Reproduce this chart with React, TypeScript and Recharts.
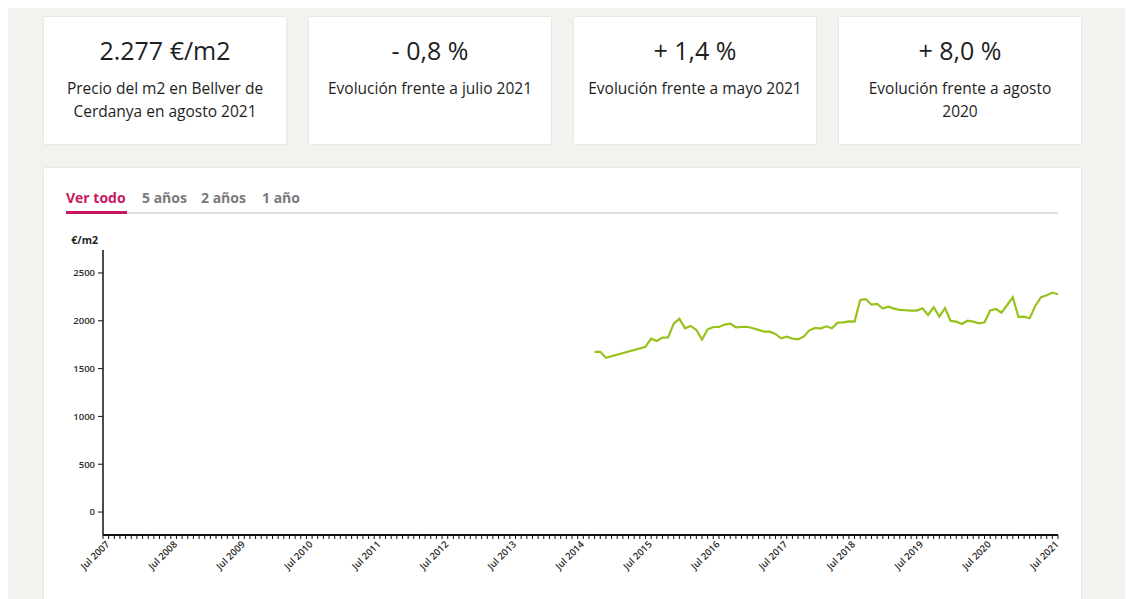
import React from 'react';
import { LineChart, Line, XAxis, YAxis } from 'recharts';

const MONTH_ABBR = ['Ene', 'Feb', 'Mar', 'Abr', 'May', 'Jun', 'Jul', 'Ago', 'Sep', 'Oct', 'Nov', 'Dic'];

// monthly axis, Jul 2007 -> Aug 2021
const FIRST_YEAR = 2007;
const FIRST_MONTH = 6;
const MONTH_COUNT = 170;

const months: string[] = [];
for (let i = 0; i < MONTH_COUNT; i++) {
  const m = (FIRST_MONTH + i) % 12;
  const y = FIRST_YEAR + Math.floor((FIRST_MONTH + i) / 12);
  months.push(`${MONTH_ABBR[m]} ${y}`);
}

// €/m2, one value per month starting Oct 2014 (null = no data)
const priceStart = 'Oct 2014';
const prices: (number | null)[] = [
  1675, 1675, 1612, null, null, null, null, null, null, 1729,
  1813, 1789, 1824, 1827, 1970, 2022, 1921, 1946, 1904, 1803,
  1911, 1935, 1935, 1960, 1970, 1932, 1935, 1937, 1922, 1905,
  1886, 1886, 1862, 1817, 1834, 1813, 1806, 1834, 1900, 1925,
  1918, 1942, 1921, 1980, 1984, 1994, 1991, 2218, 2225, 2168,
  2176, 2127, 2148, 2127, 2113, 2110, 2106, 2106, 2130, 2061,
  2141, 2043, 2134, 1998, 1991, 1967, 2001, 1991, 1973, 1984,
  2108, 2123, 2085, 2165, 2246, 2040, 2043, 2026, 2158, 2246,
  2267, 2295, 2277,
];

const yTicks = [0, 500, 1000, 1500, 2000, 2500];

const kpiValues = ['2.277 €/m2', '- 0,8 %', '+ 1,4 %', '+ 8,0 %'];
const kpiLabels = [
  ['Precio del m2 en Bellver de', 'Cerdanya en agosto 2021'],
  ['Evolución frente a julio 2021'],
  ['Evolución frente a mayo 2021'],
  ['Evolución frente a agosto', '2020'],
];

const tabs = ['Ver todo', '5 años', '2 años', '1 año'];
const tabLeft = [22, 98, 157, 218];

const startIdx = months.indexOf(priceStart);
const chartData = months.map((month, i) => ({
  month,
  price: i >= startIdx ? prices[i - startIdx] ?? null : null,
}));

const FONT = '"Open Sans", Arial, sans-serif';
const CRIMSON = '#c8175f';
const LINE_GREEN = '#97c21c';

const MonthTick = ({ x, y, payload }: any) => {
  if (!String(payload.value).startsWith('Jul')) return <g />;
  const tx = x + 7;
  const ty = y + 4;
  return (
    <text
      x={tx}
      y={ty}
      transform={`rotate(-45 ${tx} ${ty})`}
      textAnchor="end"
      fontSize={9.5}
      fontWeight={600}
      fontFamily={FONT}
      fill="#2a2a2a"
    >
      {payload.value}
    </text>
  );
};

const App: React.FC = () => {
  return (
    <div
      style={{
        position: 'relative',
        width: 1117,
        height: 600,
        background: '#f2f2ef',
        fontFamily: FONT,
        color: '#1e1e1e',
        overflow: 'hidden',
      }}
    >
      {kpiValues.map((v, i) => (
        <div
          key={v}
          style={{
            position: 'absolute',
            left: 36 + i * 265,
            top: 9,
            width: 242,
            height: 127,
            background: '#fff',
            boxShadow: '0 0 2px rgba(0,0,0,0.12)',
            textAlign: 'center',
            boxSizing: 'border-box',
            paddingTop: 18,
          }}
        >
          <div style={{ fontSize: 25, lineHeight: '30px' }}>{v}</div>
          <div style={{ fontSize: 15.5, lineHeight: '23px', marginTop: 12, whiteSpace: 'nowrap' }}>
            {kpiLabels[i].map((l, j) => (
              <div key={j}>{l}</div>
            ))}
          </div>
        </div>
      ))}

      <div
        style={{
          position: 'absolute',
          left: 36,
          top: 160,
          width: 1037,
          height: 460,
          background: '#fff',
          boxShadow: '0 0 2px rgba(0,0,0,0.12)',
        }}
      >
        {tabs.map((t, i) => (
          <div
            key={t}
            style={{
              position: 'absolute',
              left: tabLeft[i],
              top: 21,
              fontSize: 14,
              lineHeight: '18px',
              fontWeight: 700,
              color: i === 0 ? CRIMSON : '#7a7a7a',
              whiteSpace: 'nowrap',
            }}
          >
            {t}
          </div>
        ))}
        <div style={{ position: 'absolute', left: 22, top: 44, width: 992, height: 2, background: '#dedede' }} />
        <div style={{ position: 'absolute', left: 22, top: 43, width: 61, height: 3, background: CRIMSON }} />

        <div
          style={{
            position: 'absolute',
            left: 14,
            top: 66,
            width: 40,
            textAlign: 'right',
            fontSize: 10.5,
            lineHeight: '13px',
            fontWeight: 700,
            color: '#222',
          }}
        >
          €/m2
        </div>

        <div style={{ position: 'absolute', left: 0, top: 0 }}>
          <LineChart
            width={1037}
            height={431}
            data={chartData}
            margin={{ top: 82, right: 23, left: 19, bottom: 14 }}
          >
            <XAxis
              dataKey="month"
              interval={0}
              height={50}
              tickSize={4}
              tickMargin={2}
              tick={<MonthTick />}
              axisLine={{ stroke: '#111', strokeWidth: 2 }}
              tickLine={{ stroke: '#111' }}
            />
            <YAxis
              width={40}
              domain={[-240, 2740]}
              ticks={yTicks}
              allowDataOverflow
              tickSize={5}
              tickMargin={3}
              tick={{ fontSize: 9.5, fontWeight: 600, fill: '#2a2a2a', fontFamily: FONT }}
              axisLine={{ stroke: '#111', strokeWidth: 1.5 }}
              tickLine={{ stroke: '#111' }}
            />
            <Line
              type="linear"
              dataKey="price"
              stroke={LINE_GREEN}
              strokeWidth={2.2}
              dot={false}
              connectNulls
              isAnimationActive={false}
            />
          </LineChart>
        </div>
      </div>
    </div>
  );
};

export default App;
